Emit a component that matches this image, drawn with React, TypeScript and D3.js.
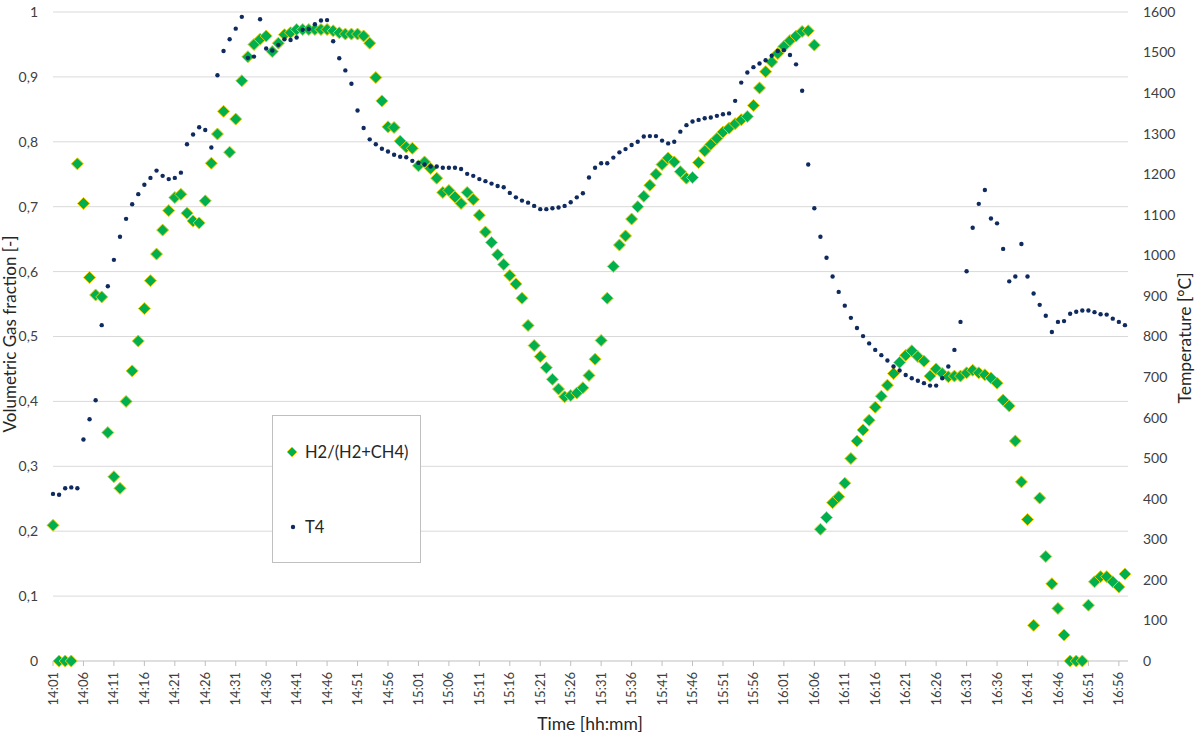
import React from 'react';
import * as d3 from 'd3';

// one reading per minute, starting 14:01
const h2Ratio = [
  0.209, 0, 0, 0, 0.766, 0.705, 0.591, 0.564, 0.561, 0.352,
  0.284, 0.266, 0.400, 0.447, 0.493, 0.543, 0.586, 0.627, 0.664, 0.694,
  0.714, 0.719, 0.690, 0.678, 0.675, 0.709, 0.767, 0.812, 0.847, 0.784,
  0.835, 0.894, 0.931, 0.950, 0.958, 0.963, 0.939, 0.952, 0.965, 0.968,
  0.973, 0.973, 0.973, 0.973, 0.973, 0.973, 0.971, 0.968, 0.966, 0.966,
  0.966, 0.963, 0.952, 0.899, 0.863, 0.823, 0.822, 0.801, 0.792, 0.790,
  0.763, 0.769, 0.759, 0.744, 0.722, 0.725, 0.715, 0.705, 0.722, 0.711,
  0.687, 0.661, 0.645, 0.626, 0.611, 0.594, 0.581, 0.559, 0.517, 0.486,
  0.469, 0.452, 0.434, 0.419, 0.407, 0.409, 0.413, 0.421, 0.440, 0.465,
  0.494, 0.559, 0.608, 0.641, 0.655, 0.681, 0.700, 0.716, 0.733, 0.750,
  0.765, 0.775, 0.769, 0.754, 0.744, 0.745, 0.768, 0.786, 0.796, 0.805,
  0.815, 0.821, 0.828, 0.834, 0.839, 0.856, 0.883, 0.908, 0.923, 0.936,
  0.947, 0.956, 0.963, 0.970, 0.971, 0.949, 0.203, 0.221, 0.244, 0.253,
  0.274, 0.312, 0.339, 0.356, 0.371, 0.391, 0.408, 0.425, 0.443, 0.460,
  0.471, 0.478, 0.469, 0.462, 0.439, 0.450, 0.443, 0.438, 0.439, 0.439,
  0.444, 0.448, 0.444, 0.441, 0.436, 0.428, 0.402, 0.393, 0.339, 0.276,
  0.218, 0.055, 0.251, 0.161, 0.119, 0.081, 0.040, 0, 0, 0,
  0.086, 0.122, 0.130, 0.130, 0.122, 0.114, 0.134,
];

const t4 = [
  412, 410, 426, 428, 426, 546, 596, 643, 828, 924,
  989, 1046, 1090, 1126, 1151, 1174, 1191, 1209, 1196, 1188,
  1191, 1204, 1274, 1298, 1316, 1309, 1266, 1444, 1504, 1533,
  1559, 1588, 1487, 1490, 1582, 1510, 1505, 1519, 1533, 1531,
  1537, 1556, 1558, 1570, 1579, 1580, 1528, 1486, 1456, 1423,
  1357, 1314, 1286, 1274, 1263, 1256, 1248, 1243, 1242, 1233,
  1228, 1224, 1219, 1219, 1216, 1216, 1216, 1213, 1201, 1196,
  1188, 1183, 1177, 1171, 1168, 1154, 1143, 1135, 1130, 1122,
  1114, 1114, 1116, 1118, 1122, 1131, 1143, 1153, 1192, 1216,
  1227, 1227, 1241, 1254, 1262, 1272, 1280, 1293, 1294, 1294,
  1283, 1276, 1280, 1305, 1321, 1330, 1334, 1338, 1340, 1344,
  1348, 1350, 1381, 1426, 1451, 1464, 1473, 1481, 1492, 1504,
  1506, 1494, 1471, 1406, 1224, 1116, 1046, 994, 948, 910,
  876, 846, 821, 801, 783, 767, 754, 741, 726, 716,
  705, 697, 691, 685, 679, 679, 697, 726, 767, 836,
  961, 1068, 1127, 1161, 1091, 1079, 1016, 936, 948, 1028,
  948, 906, 878, 851, 811, 836, 838, 856, 861, 864,
  864, 860, 855, 854, 844, 836, 828,
];

const timeTicks = [
  '14:01', '14:06', '14:11', '14:16', '14:21', '14:26', '14:31', '14:36', '14:41',
  '14:46', '14:51', '14:56', '15:01', '15:06', '15:11', '15:16', '15:21', '15:26',
  '15:31', '15:36', '15:41', '15:46', '15:51', '15:56', '16:01', '16:06', '16:11',
  '16:16', '16:21', '16:26', '16:31', '16:36', '16:41', '16:46', '16:51', '16:56',
];

const fracTicks = [0, 0.1, 0.2, 0.3, 0.4, 0.5, 0.6, 0.7, 0.8, 0.9, 1];
const tempTicks = [0, 100, 200, 300, 400, 500, 600, 700, 800, 900, 1000, 1100, 1200, 1300, 1400, 1500, 1600];

const W = 1196;
const H = 736;
const left = 53, right = 1128, top = 12, bottom = 661;
const FONT = 'Lato, "Open Sans", sans-serif';
const GREEN = '#00b050';
const GOLD = '#e8cc00';
const NAVY = '#0f2a5e';

const diamond = (cx: number, cy: number, s: number) =>
  `M${cx},${cy - s}L${cx + s},${cy}L${cx},${cy + s}L${cx - s},${cy}Z`;

const fmtFrac = (v: number) => (v === 0 || v === 1 ? String(v) : v.toFixed(1).replace('.', ','));

export default function App() {
  const x = d3.scaleLinear().domain([0, 176.5]).range([left, right]);
  const yL = d3.scaleLinear().domain([0, 1]).range([bottom, top]);
  const yR = d3.scaleLinear().domain([0, 1600]).range([bottom, top]);

  return (
    <svg width={W} height={H} style={{ position: 'absolute', left: 0, top: 0 }} fontFamily={FONT}>
      <rect width={W} height={H} fill="#fff" />

      {/* gridlines */}
      {fracTicks.slice(1).map((t) => (
        <line key={t} x1={left} x2={right} y1={yL(t)} y2={yL(t)} stroke="#d9d9d9" strokeWidth={1} />
      ))}
      <line x1={left} x2={right} y1={bottom} y2={bottom} stroke="#bfbfbf" strokeWidth={1} />
      {timeTicks.map((t, i) => (
        <line key={t} x1={x(i * 5)} x2={x(i * 5)} y1={bottom} y2={bottom + 5} stroke="#bfbfbf" />
      ))}

      {/* left axis */}
      {fracTicks.map((t) => (
        <text key={t} x={38} y={yL(t)} dy="0.35em" textAnchor="end" fontSize={14} fill="#404040">
          {fmtFrac(t)}
        </text>
      ))}
      {/* right axis */}
      {tempTicks.map((t) => (
        <text key={t} x={1143} y={yR(t)} dy="0.35em" textAnchor="start" fontSize={14} fill="#404040">
          {t}
        </text>
      ))}
      {/* x tick labels */}
      {timeTicks.map((t, i) => (
        <text
          key={t}
          transform={`translate(${x(i * 5)},${bottom + 11}) rotate(-90)`}
          dy="0.35em"
          textAnchor="end"
          fontSize={13}
          fill="#404040"
        >
          {t}
        </text>
      ))}

      {/* titles */}
      <text transform={`translate(16,334) rotate(-90)`} textAnchor="middle" fontSize={17} fill="#262626">
        Volumetric Gas fraction [-]
      </text>
      <text transform={`translate(1191,338) rotate(-90)`} textAnchor="middle" fontSize={17.5} fill="#262626">
        Temperature [°C]
      </text>
      <text x={590} y={730} textAnchor="middle" fontSize={17.5} fill="#262626">
        Time [hh:mm]
      </text>

      {/* series */}
      {h2Ratio.map((v, i) => (
        <path key={`h${i}`} d={diamond(x(i), yL(v), 6)} fill={GREEN} stroke={GOLD} strokeWidth={1} />
      ))}
      {t4.map((v, i) => (
        <circle key={`t${i}`} cx={x(i)} cy={yR(v)} r={2.2} fill={NAVY} />
      ))}

      {/* legend */}
      <rect x={272.5} y={415.5} width={148} height={147} fill="#fff" stroke="#bfbfbf" />
      <path d={diamond(292, 452, 5)} fill={GREEN} stroke={GOLD} />
      <text x={305} y={452} dy="0.35em" fontSize={16.5} fill="#262626">H2/(H2+CH4)</text>
      <circle cx={293} cy={527} r={2.2} fill={NAVY} />
      <text x={305} y={527} dy="0.35em" fontSize={16.5} fill="#262626">T4</text>
    </svg>
  );
}
